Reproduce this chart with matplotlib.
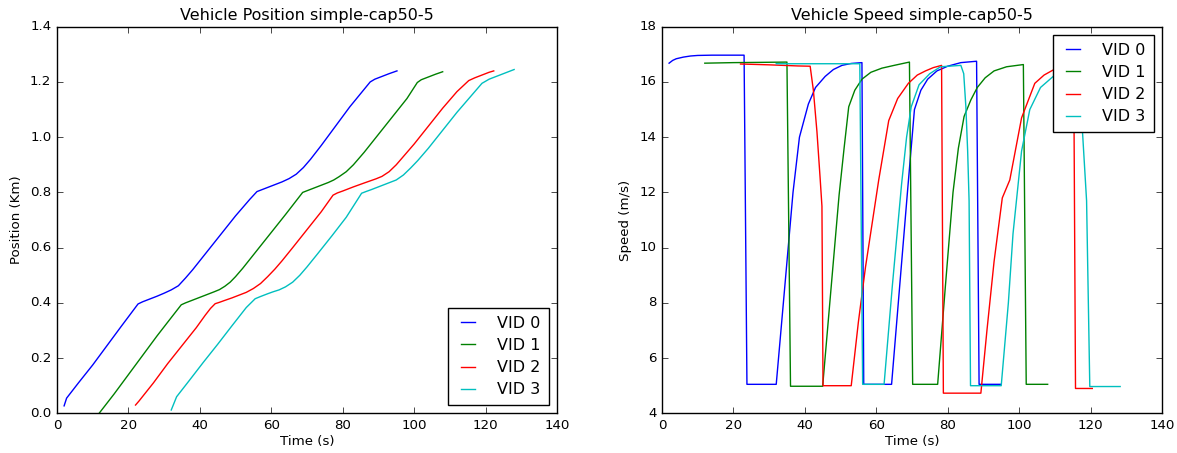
import matplotlib
matplotlib.use("Agg")
import matplotlib.pyplot as plt

# old-school matplotlib look: ticks inside, b/g/r/c colours
plt.style.use("classic")
plt.rcParams["font.size"] = 9.6
plt.rcParams["figure.facecolor"] = "white"
plt.rcParams["savefig.facecolor"] = "white"

labels = ["VID 0", "VID 1", "VID 2", "VID 3"]
colors = ["b", "g", "r", "c"]

# ---- position (km) over time (s)
pos_t0 = [2, 2.7, 6, 10, 14, 18, 22.7, 24, 26, 28, 30, 32, 34, 36, 38, 42, 46, 50, 54, 56,
          57, 59, 61, 63, 65, 67, 69, 71, 74, 78, 82, 87.7, 89, 91, 93, 95.2]
pos_p0 = [0.027, 0.055, 0.11, 0.175, 0.245, 0.315, 0.396, 0.404, 0.414, 0.424, 0.435, 0.447,
          0.462, 0.49, 0.52, 0.585, 0.65, 0.715, 0.775, 0.803, 0.808, 0.818, 0.828, 0.838,
          0.85, 0.866, 0.89, 0.92, 0.97, 1.04, 1.11, 1.20, 1.21, 1.22, 1.23, 1.24]

pos_t1 = [11.8, 16, 20, 24, 28, 31, 34.8, 36, 38, 40, 42, 44, 45.5, 47, 48.5, 50, 52, 56, 60,
          64, 68.8, 70, 72, 74, 76, 77.5, 79, 81, 83, 86, 90, 94, 98, 100.9, 102, 104, 106, 108]
pos_p1 = [0.0, 0.07, 0.14, 0.21, 0.28, 0.33, 0.393, 0.40, 0.41, 0.42, 0.43, 0.44, 0.448, 0.46,
          0.475, 0.495, 0.525, 0.59, 0.655, 0.72, 0.80, 0.806, 0.816, 0.826, 0.836, 0.845,
          0.857, 0.875, 0.9, 0.945, 1.01, 1.075, 1.14, 1.198, 1.208, 1.218, 1.228, 1.237]

pos_t2 = [22, 23, 27, 31, 35, 39, 41.5, 43, 44.3, 45.5, 47, 49, 51, 53, 55, 57, 59, 61, 63, 66,
          70, 74, 77.3, 78.5, 80, 83, 86, 89.3, 91, 93, 95, 97, 100, 104, 108, 112, 115.3, 117,
          119, 121, 122.3]
pos_p2 = [0.03, 0.045, 0.11, 0.18, 0.245, 0.31, 0.355, 0.38, 0.397, 0.402, 0.409, 0.418, 0.428,
          0.438, 0.452, 0.47, 0.495, 0.522, 0.552, 0.6, 0.665, 0.73, 0.79, 0.798, 0.805, 0.82,
          0.834, 0.849, 0.858, 0.875, 0.9, 0.93, 0.975, 1.04, 1.105, 1.165, 1.205, 1.215,
          1.225, 1.235, 1.24]

pos_t3 = [32, 33.5, 37, 41, 45, 49, 53, 55.5, 57, 59, 60.5, 62.2, 64, 66, 68, 70, 73, 77, 81,
          85.3, 86.5, 88, 90, 92, 95, 97, 99, 101, 104, 108, 112, 116, 119, 121, 124, 128]
pos_p3 = [0.012, 0.06, 0.118, 0.185, 0.25, 0.317, 0.383, 0.415, 0.423, 0.433, 0.44, 0.447,
          0.458, 0.475, 0.5, 0.53, 0.578, 0.643, 0.71, 0.797, 0.803, 0.81, 0.82, 0.83, 0.845,
          0.863, 0.888, 0.915, 0.96, 1.025, 1.09, 1.15, 1.195, 1.21, 1.225, 1.245]

# ---- speed (m/s) over time (s)
spd_t0 = [2, 3, 4, 6, 8, 10, 14, 23, 23.8, 32, 34, 36.7, 38.5, 41, 43, 45.7, 48, 50.4, 53, 56,
          56.5, 64.3, 66.5, 68.8, 70.7, 72.5, 74.4, 77, 80, 83.7, 88.1, 88.8, 95]
spd_v0 = [16.68, 16.78, 16.84, 16.9, 16.94, 16.96, 16.97, 16.97, 5.05, 5.05, 8.0, 12.0, 14.0,
          15.2, 15.8, 16.2, 16.45, 16.6, 16.67, 16.7, 5.05, 5.05, 8.5, 12.1, 15.0, 15.7, 16.1,
          16.4, 16.57, 16.7, 16.75, 5.05, 5.05]

spd_t1 = [12, 20, 28, 35, 36, 45, 47.3, 49.6, 51, 52.3, 54, 56, 58.5, 61.6, 65, 69.3, 70.2,
          77.2, 79.3, 81.5, 83, 84.6, 86.5, 88.3, 90.5, 93, 96.5, 101.2, 102, 108]
spd_v1 = [16.68, 16.7, 16.71, 16.72, 4.98, 4.98, 8.45, 11.9, 13.6, 15.1, 15.7, 16.1, 16.35,
          16.5, 16.6, 16.72, 5.05, 5.05, 8.5, 12.0, 13.6, 14.75, 15.35, 15.8, 16.15, 16.4,
          16.55, 16.63, 5.05, 5.05]

spd_t2 = [22, 30, 38, 41.5, 42.4, 43.4, 44.3, 44.8, 45.1, 53, 55, 57, 59, 60.7, 63.5, 66, 69,
          71.5, 73.8, 76, 78.3, 78.8, 89.3, 91, 93, 95.3, 97.4, 100.7, 104.4, 107, 109.5, 112,
          115.3, 115.8, 120.5]
spd_v2 = [16.65, 16.62, 16.58, 16.57, 15.7, 14.2, 12.5, 11.5, 5.0, 5.0, 7.3, 9.3, 11.0, 12.45,
          14.6, 15.4, 15.95, 16.25, 16.4, 16.52, 16.6, 4.73, 4.73, 7.0, 9.5, 11.8, 12.45, 14.7,
          15.95, 16.25, 16.43, 16.5, 16.5, 4.9, 4.9]

spd_t3 = [32, 40, 50, 55.4, 56.2, 62.2, 64.5, 67.1, 68.5, 69.8, 72, 75, 78, 83.7, 84.5, 85.1,
          85.6, 86, 86.4, 95, 97, 98.3, 100.7, 103, 106, 110, 114, 116.2, 117.2, 117.8, 118.9,
          119.8, 128.3]
spd_v3 = [16.66, 16.66, 16.66, 16.66, 5.05, 5.05, 8.6, 12.3, 14.0, 15.1, 15.9, 16.3, 16.55,
          16.6, 16.3, 15.1, 13.5, 11.7, 5.0, 5.0, 8.0, 10.5, 13.5, 15.0, 15.8, 16.25, 16.4,
          16.2, 15.2, 14.1, 11.7, 4.97, 4.97]

pos_series = [(pos_t0, pos_p0), (pos_t1, pos_p1), (pos_t2, pos_p2), (pos_t3, pos_p3)]
spd_series = [(spd_t0, spd_v0), (spd_t1, spd_v1), (spd_t2, spd_v2), (spd_t3, spd_v3)]

fig = plt.figure(figsize=(11.77, 4.53), dpi=100)
ax1 = fig.add_axes([0.0484, 0.0876, 0.4248, 0.8534])
ax2 = fig.add_axes([0.5624, 0.0876, 0.4248, 0.8534])

leg_kw = dict(fancybox=False, borderaxespad=0.5, handlelength=1.5, handletextpad=1.1,
              labelspacing=0.45, borderpad=0.5)

# left panel: position
for (t, p), lab, col in zip(pos_series, labels, colors):
  ax1.plot(t, p, color=col, lw=1.0, label=lab)
ax1.set_xlim(0, 140)
ax1.set_ylim(0.0, 1.4)
ax1.set_xticks(range(0, 141, 20))
ax1.set_yticks([0.0, 0.2, 0.4, 0.6, 0.8, 1.0, 1.2, 1.4])
ax1.set_title("Vehicle Position simple-cap50-5")
ax1.set_xlabel("Time (s)", labelpad=2)
ax1.set_ylabel("Position (Km)")
ax1.legend(loc="lower right", **leg_kw)

# right panel: speed
for (t, v), lab, col in zip(spd_series, labels, colors):
  ax2.plot(t, v, color=col, lw=1.0, label=lab)
ax2.set_xlim(0, 140)
ax2.set_ylim(4, 18)
ax2.set_xticks(range(0, 141, 20))
ax2.set_yticks(range(4, 19, 2))
ax2.set_title("Vehicle Speed simple-cap50-5")
ax2.set_xlabel("Time (s)", labelpad=2)
ax2.set_ylabel("Speed (m/s)")
ax2.legend(loc="upper right", **leg_kw)

fig.savefig("out.png", dpi=100)
